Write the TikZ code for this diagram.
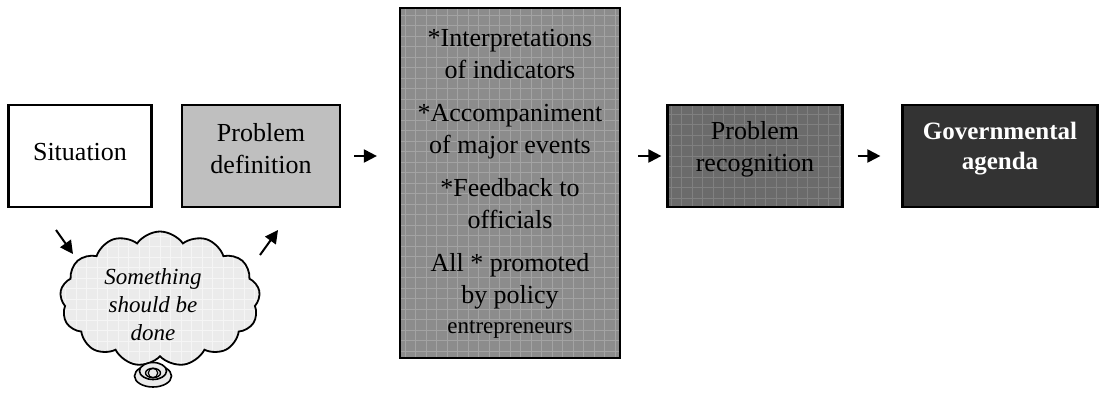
\documentclass[tikz,border=0pt]{standalone}
\usepackage{fontspec}
\setmainfont{Liberation Serif}
\usetikzlibrary{shapes.symbols,shapes.geometric,arrows.meta}
\begin{document}
\begin{tikzpicture}[x=1pt,y=-1pt,
  box/.style={draw=black,line width=2.2pt,inner sep=0pt},
  gridded/.style={path picture={\draw[#1,line width=0.6pt]
      ([shift={(-1pt,-1pt)}]path picture bounding box.south west) grid[step=10.5pt]
      (path picture bounding box.north east);}},
  lbl/.style={align=center,font=\fontsize{26}{32}\selectfont,inner sep=0pt},
  arr/.style={line width=2pt,-{Triangle[length=13pt,width=13pt]}},
]
\fill[white] (0,0) rectangle (1103,397);
\useasboundingbox (0,0) rectangle (1103,397);

% boxes
\node[box,fill=white,minimum width=143pt,minimum height=102pt] (sit) at (80,156) {};
\node[lbl] (sitt) at (80,152) {Situation};

\node[box,fill=black!25,minimum width=158pt,minimum height=102pt] (pd) at (261,156) {};
\node[lbl] (pdt) at (261,149) {Problem\\definition};

\node[box,fill=black!45,gridded=black!36,minimum width=220pt,minimum height=350pt] (mid) at (510,183) {};
\node[lbl] (midt) at (510,184) {*Interpretations\\of indicators\\[11pt]
  *Accompaniment\\of major events\\[11pt]
  *Feedback to\\officials\\[11pt]
  All * promoted\\by policy\\[-2pt]{\fontsize{23}{30}\selectfont entrepreneurs}};

\node[box,fill=black!58,gridded=black!50,minimum width=175pt,minimum height=102pt] (pr) at (755,156) {};
\node[lbl] (prt) at (755,149) {Problem\\recognition};

\node[box,fill=black!80,minimum width=195pt,minimum height=102pt] (ga) at (1000,156) {};
\node[lbl,text=white,font=\fontsize{25}{30}\selectfont\bfseries] (gat) at (1000,149) {Governmental\\agenda};

% cloud
\node[cloud,cloud puffs=13,cloud puff arc=110,aspect=1.5,draw=black,line width=1.8pt,
  fill=black!8,gridded=black!4,minimum width=200pt,minimum height=135pt] (cl) at (160,299) {};
\node[align=center,inner sep=0pt,font=\fontsize{23}{28}\selectfont\itshape] (clt) at (153,305)
  {Something\\should be\\done};
\node[draw=black,line width=1.6pt,fill=black!8,ellipse,minimum width=37pt,minimum height=22pt] (b1) at (153,376) {};
\node[draw=black,line width=1.6pt,fill=black!8,ellipse,minimum width=27pt,minimum height=17pt] (b2) at (153,371) {};
\node[draw=black,line width=1.4pt,ellipse,minimum width=15pt,minimum height=9pt] (b3) at (153,373) {};
\node[draw=black,line width=1.2pt,ellipse,minimum width=7pt,minimum height=4pt] (b4) at (153,373) {};

% connectors
\draw[arr,shorten <=13pt,shorten >=22pt] (pd.east |- 0,156) -- (mid.west |- 0,156);
\draw[arr,shorten <=17pt,shorten >=5pt] (mid.east |- 0,156) -- (pr.west |- 0,156);
\draw[arr,shorten <=14pt,shorten >=21pt] (pr.east) -- (ga.west);
\coordinate (d1s) at (56,230);
\coordinate (d1e) at (73,254);
\coordinate (d2s) at (260,255);
\coordinate (d2e) at (278,230);
\draw[arr] (d1s) -- (d1e);
\draw[arr] (d2s) -- (d2e);
\end{tikzpicture}
\end{document}
